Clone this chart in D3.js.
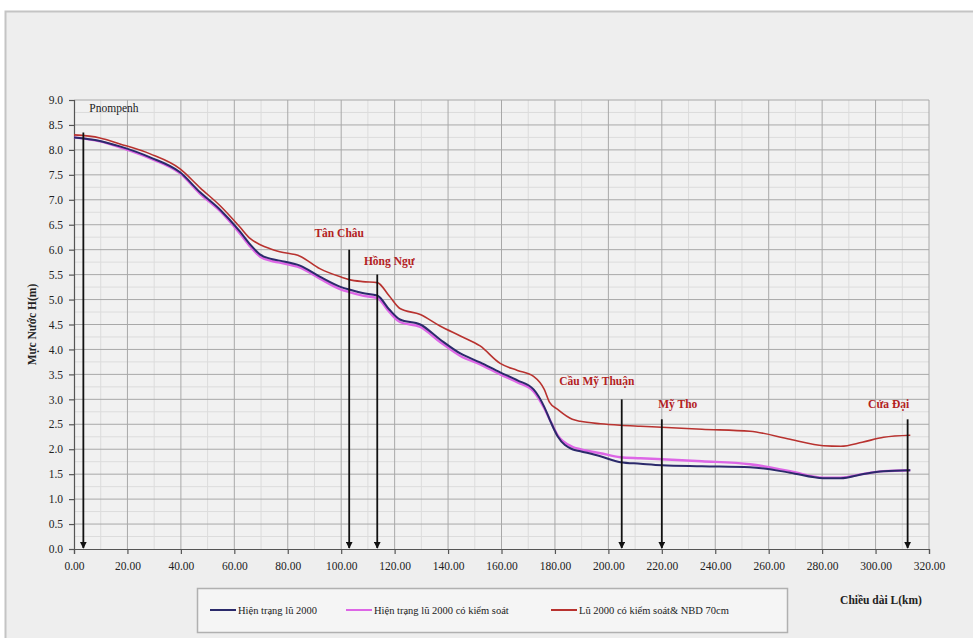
<!DOCTYPE html>
<html>
<head>
<meta charset="utf-8">
<script src="https://cdn.jsdelivr.net/npm/d3@7"></script>
<style>
  html, body { margin: 0; padding: 0; background: #ffffff; }
  svg { display: block; }
</style>
</head>
<body>
<svg id="chart" width="973" height="638"></svg>
<script>
// Chainage along the river (km)
const km = [0, 9.7, 17.2, 28.5, 39.7, 47.2, 54.7, 62, 66, 69.7, 73.4, 77, 84.6, 92, 100, 103, 108, 113.5, 118, 122, 129.6, 137, 144.6, 152, 159.5, 166, 172, 176, 178, 181, 186.5, 189.5, 197, 204.5, 212, 220, 235, 253, 268, 280.5, 287, 295, 303, 313];

// Water level H(m) — present state, flood 2000
const hienTrang = [8.25, 8.18, 8.07, 7.85, 7.55, 7.15, 6.8, 6.37, 6.1, 5.9, 5.82, 5.78, 5.68, 5.46, 5.25, 5.2, 5.13, 5.08, 4.8, 4.6, 4.5, 4.2, 3.92, 3.74, 3.54, 3.38, 3.2, 2.85, 2.6, 2.26, 2.0, 1.96, 1.86, 1.74, 1.71, 1.68, 1.66, 1.64, 1.53, 1.42, 1.42, 1.5, 1.56, 1.58];

// Water level H(m) — present state, flood 2000 with control works
const coKiemSoat = [8.25, 8.17, 8.05, 7.83, 7.53, 7.12, 6.77, 6.33, 6.06, 5.86, 5.78, 5.74, 5.64, 5.42, 5.2, 5.15, 5.08, 5.03, 4.75, 4.55, 4.45, 4.15, 3.87, 3.7, 3.5, 3.34, 3.16, 2.82, 2.6, 2.28, 2.05, 2.0, 1.92, 1.84, 1.82, 1.8, 1.76, 1.7, 1.56, 1.43, 1.43, 1.5, 1.56, 1.58];

// Water level H(m) — flood 2000 with control & sea level rise 70cm
const nbd70 = [8.3, 8.24, 8.12, 7.92, 7.62, 7.24, 6.88, 6.46, 6.22, 6.1, 6.02, 5.96, 5.87, 5.62, 5.45, 5.4, 5.36, 5.34, 5.07, 4.82, 4.7, 4.47, 4.27, 4.07, 3.72, 3.58, 3.46, 3.2, 2.94, 2.8, 2.6, 2.56, 2.51, 2.48, 2.46, 2.44, 2.4, 2.36, 2.2, 2.07, 2.06, 2.14, 2.24, 2.28];

const seriesNames = ["Hiện trạng lũ 2000", "Hiện trạng lũ 2000 có kiểm soát", "Lũ 2000 có kiểm soát& NBD 70cm"];
const seriesColors = ["#2b2a6b", "#dd66e6", "#b8322f"];

// Reference stations along the river
const stationNames = ["Pnompenh", "Tân Châu", "Hồng Ngự", "Cầu Mỹ Thuận", "Mỹ Tho", "Cửa Đại"];
const stationKm = [3.5, 103, 113.5, 205, 220, 312];
const stationTop = [8.35, 6.0, 5.5, 3.0, 2.6, 2.6];

const xTicks = d3.range(0, 321, 20);
const yTicks = d3.range(0, 9.01, 0.5);

const FONT = "'Liberation Serif', 'Times New Roman', 'DejaVu Serif', serif";

const svg = d3.select("#chart").attr("font-family", FONT);
const W = 973, H = 638;
const m = { left: 74, right: 929, top: 100, bottom: 549 };

// outer panel
svg.append("rect").attr("x", 5.5).attr("y", 11.5).attr("width", W).attr("height", H)
  .attr("fill", "#eeeeee").attr("stroke", "#c4c4c4").attr("stroke-width", 2);

const x = d3.scaleLinear().domain([0, 320]).range([m.left, m.right]);
const y = d3.scaleLinear().domain([0, 9]).range([m.bottom, m.top]);

// plot background
svg.append("rect").attr("x", m.left).attr("y", m.top)
  .attr("width", m.right - m.left).attr("height", m.bottom - m.top)
  .attr("fill", "#f1f1f1");

// minor grid
const g = svg.append("g");
g.selectAll("line.vmin").data(d3.range(10, 320, 20)).join("line")
  .attr("x1", d => x(d)).attr("x2", d => x(d)).attr("y1", m.top).attr("y2", m.bottom)
  .attr("stroke", "#dcdcdc").attr("stroke-width", 1);
g.selectAll("line.hmin").data(d3.range(0.25, 9, 0.5)).join("line")
  .attr("x1", m.left).attr("x2", m.right).attr("y1", d => y(d)).attr("y2", d => y(d))
  .attr("stroke", "#dcdcdc").attr("stroke-width", 1);
// major grid
g.selectAll("line.v").data(xTicks.slice(1)).join("line")
  .attr("x1", d => x(d)).attr("x2", d => x(d)).attr("y1", m.top).attr("y2", m.bottom)
  .attr("stroke", "#a8a8a8").attr("stroke-width", 1);
g.selectAll("line.h").data(yTicks.slice(1)).join("line")
  .attr("x1", m.left).attr("x2", m.right).attr("y1", d => y(d)).attr("y2", d => y(d))
  .attr("stroke", "#a8a8a8").attr("stroke-width", 1);

// axes
const xAxis = d3.axisBottom(x).tickValues(xTicks).tickFormat(d3.format(".2f")).tickSize(5).tickPadding(8);
const yAxis = d3.axisLeft(y).tickValues(yTicks).tickFormat(d3.format(".1f")).tickSize(5).tickPadding(6);
const gx = svg.append("g").attr("transform", `translate(0,${m.bottom})`).call(xAxis);
const gy = svg.append("g").attr("transform", `translate(${m.left},0)`).call(yAxis);
[gx, gy].forEach(a => {
  a.attr("font-family", FONT).attr("font-size", 11.5);
  a.selectAll("path, line").attr("stroke", "#555").attr("stroke-width", 1.2);
  a.selectAll("text").attr("fill", "#222");
});

// axis titles
svg.append("text").attr("transform", `translate(36,${(m.top + m.bottom) / 2}) rotate(-90)`)
  .attr("text-anchor", "middle").attr("font-size", 11.5).attr("font-weight", "bold").attr("fill", "#222")
  .text("Mực Nước H(m)");
svg.append("text").attr("x", 881).attr("y", 604).attr("text-anchor", "middle")
  .attr("font-size", 11.5).attr("font-weight", "bold").attr("fill", "#222")
  .text("Chiều dài L(km)");

// series lines
const allSeries = [hienTrang, coKiemSoat, nbd70];
const line = d3.line().x(d => x(d[0])).y(d => y(d[1])).curve(d3.curveMonotoneX);
const drawOrder = [1, 0, 2];
drawOrder.forEach(i => {
  svg.append("path").datum(km.map((k, j) => [k, allSeries[i][j]]))
    .attr("d", line).attr("fill", "none")
    .attr("stroke", seriesColors[i]).attr("stroke-width", i === 1 ? 2.4 : (i === 0 ? 2 : 1.6))
    .attr("stroke-linejoin", "round");
});

// station markers: vertical arrows down to the axis
svg.append("defs").append("marker").attr("id", "arrow")
  .attr("viewBox", "0 0 10 10").attr("refX", 9).attr("refY", 5)
  .attr("markerWidth", 4).attr("markerHeight", 4).attr("orient", "auto")
  .append("path").attr("d", "M0,0 L10,5 L0,10 z").attr("fill", "#111");

stationKm.forEach((k, i) => {
  svg.append("line").attr("x1", x(k)).attr("x2", x(k))
    .attr("y1", y(stationTop[i])).attr("y2", y(0) - 1)
    .attr("stroke", "#111").attr("stroke-width", 1.8).attr("marker-end", "url(#arrow)");
});

// station labels
const labelPos = [
  { dx: 6, y: 8.75, anchor: "start", color: "#222", weight: "normal" },
  { dx: -10, y: 6.25, anchor: "middle", color: "#b3221f", weight: "bold" },
  { dx: 12, y: 5.7, anchor: "middle", color: "#b3221f", weight: "bold" },
  { dx: -25, y: 3.28, anchor: "middle", color: "#b3221f", weight: "bold" },
  { dx: 16, y: 2.82, anchor: "middle", color: "#b3221f", weight: "bold" },
  { dx: -19, y: 2.82, anchor: "middle", color: "#b3221f", weight: "bold" }
];
stationNames.forEach((n, i) => {
  const p = labelPos[i];
  svg.append("text").attr("x", x(stationKm[i]) + p.dx).attr("y", y(p.y))
    .attr("text-anchor", p.anchor).attr("font-size", 11.5).attr("font-weight", p.weight)
    .attr("fill", p.color).text(n);
});

// legend
const lg = svg.append("g");
lg.append("rect").attr("x", 197.5).attr("y", 588.5).attr("width", 590).attr("height", 44)
  .attr("fill", "#f5f5f5").attr("stroke", "#b0b0b0").attr("stroke-width", 1.5);
const legendX = [210, 346, 551];
seriesNames.forEach((n, i) => {
  lg.append("line").attr("x1", legendX[i]).attr("x2", legendX[i] + 26).attr("y1", 610).attr("y2", 610)
    .attr("stroke", seriesColors[i]).attr("stroke-width", 2);
  lg.append("text").attr("x", legendX[i] + 28).attr("y", 613.5).attr("font-size", 10.5)
    .attr("fill", "#222").text(n);
});
</script>
</body>
</html>
